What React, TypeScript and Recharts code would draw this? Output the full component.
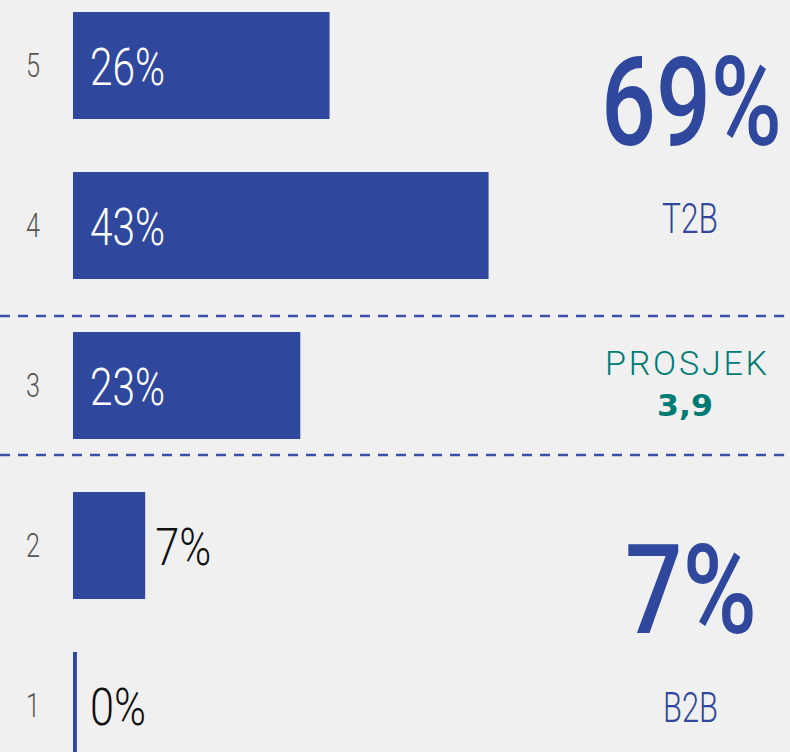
import { Bar, BarChart, LabelList, XAxis, YAxis } from "recharts";

const scaleLabels = ["5", "4", "3", "2", "1"];
const shares = [26.3, 42.6, 23.3, 7.4, 0.4];
const shareLabels = ["26%", "43%", "23%", "7%", "0%"];

const topBoxValue = "69%";
const topBoxLabel = "T2B";
const meanTitle = "PROSJEK";
const meanValue = "3,9";
const bottomBoxValue = "7%";
const bottomBoxLabel = "B2B";

const data = scaleLabels.map((s, i) => ({ scale: s, share: shares[i], text: shareLabels[i] }));

const BLUE = "#2f489d";
const TEAL = "#007b73";
const LIGHT = "Roboto, 'Liberation Sans Narrow', sans-serif";

// condensed look: squeeze Roboto to the narrow widths of the original
const narrowWidth = (s: string, digit: number, pct: number) =>
  s.split("").reduce((w, c) => w + (c === "%" ? pct : digit), 0);

function ScaleTick(props: any) {
  const { y, payload } = props;
  return (
    <text x={33} y={y + 12} textAnchor="middle" fontSize={34} fontWeight={300} fill="#555"
      fontFamily={LIGHT} textLength={14} lengthAdjust="spacingAndGlyphs">
      {payload.value}
    </text>
  );
}

function ShareLabel(props: any) {
  const { x, y, width, height, value } = props;
  const inside = width > 100;
  const tx = inside ? x + 17 : Math.max(x + width + 10, x + 17);
  return (
    <text
      x={tx}
      y={y + height / 2 + 19}
      fontSize={51}
      fontWeight={300}
      fill={inside ? "#fff" : "#111"}
      fontFamily={LIGHT}
      textLength={narrowWidth(String(value), 19, 37)}
      lengthAdjust="spacingAndGlyphs"
    >
      {value}
    </text>
  );
}

export default function App() {
  return (
    <div style={{ position: "fixed", left: 0, top: 0, width: 790, height: 752, overflow: "hidden", background: "#f0f0f0" }}>
      <div style={{ position: "absolute", left: 0, top: -15 }}>
        <BarChart width={790} height={800} data={data} layout="vertical" margin={{ top: 0, right: 0, left: 0, bottom: 0 }}>
          <XAxis type="number" hide domain={[0, 73.5]} />
          <YAxis type="category" dataKey="scale" width={73} axisLine={false} tickLine={false}
            tick={(p: any) => <ScaleTick {...p} />} />
          <Bar dataKey="share" fill={BLUE} barSize={107} isAnimationActive={false}>
            <LabelList dataKey="text" content={(p: any) => <ShareLabel {...p} />} />
          </Bar>
        </BarChart>
      </div>
      <svg width={790} height={752} style={{ position: "absolute", left: 0, top: 0, pointerEvents: "none" }}>
        <path d="M0,316 H783 Q788,316 790,312" fill="none" stroke="#3a4fa8" strokeWidth={2.5} strokeDasharray="10 8" />
        <path d="M0,455 H783 Q788,455 790,459" fill="none" stroke="#3a4fa8" strokeWidth={2.5} strokeDasharray="10 8" />
        <text x={601} y={145} fontSize={125} fontWeight={500} fill={BLUE} fontFamily={LIGHT}
          textLength={181} lengthAdjust="spacingAndGlyphs">{topBoxValue}</text>
        <text x={662} y={233} fontSize={43} fontWeight={300} fill={BLUE} fontFamily={LIGHT}
          textLength={56} lengthAdjust="spacingAndGlyphs">{topBoxLabel}</text>
        <text x={605} y={375} fontSize={34} fontWeight={300} fill={TEAL} fontFamily={LIGHT}
          textLength={162} lengthAdjust="spacing">{meanTitle}</text>
        <text x={657} y={416} fontSize={30} fontWeight="bold" fill={TEAL} fontFamily="'DejaVu Sans', sans-serif"
          textLength={56} lengthAdjust="spacingAndGlyphs">{meanValue}</text>
        <text x={625} y={633} fontSize={125} fontWeight={500} fill={BLUE} fontFamily={LIGHT}
          textLength={132} lengthAdjust="spacingAndGlyphs">{bottomBoxValue}</text>
        <text x={663} y={722} fontSize={43} fontWeight={300} fill={BLUE} fontFamily={LIGHT}
          textLength={55} lengthAdjust="spacingAndGlyphs">{bottomBoxLabel}</text>
      </svg>
    </div>
  );
}
